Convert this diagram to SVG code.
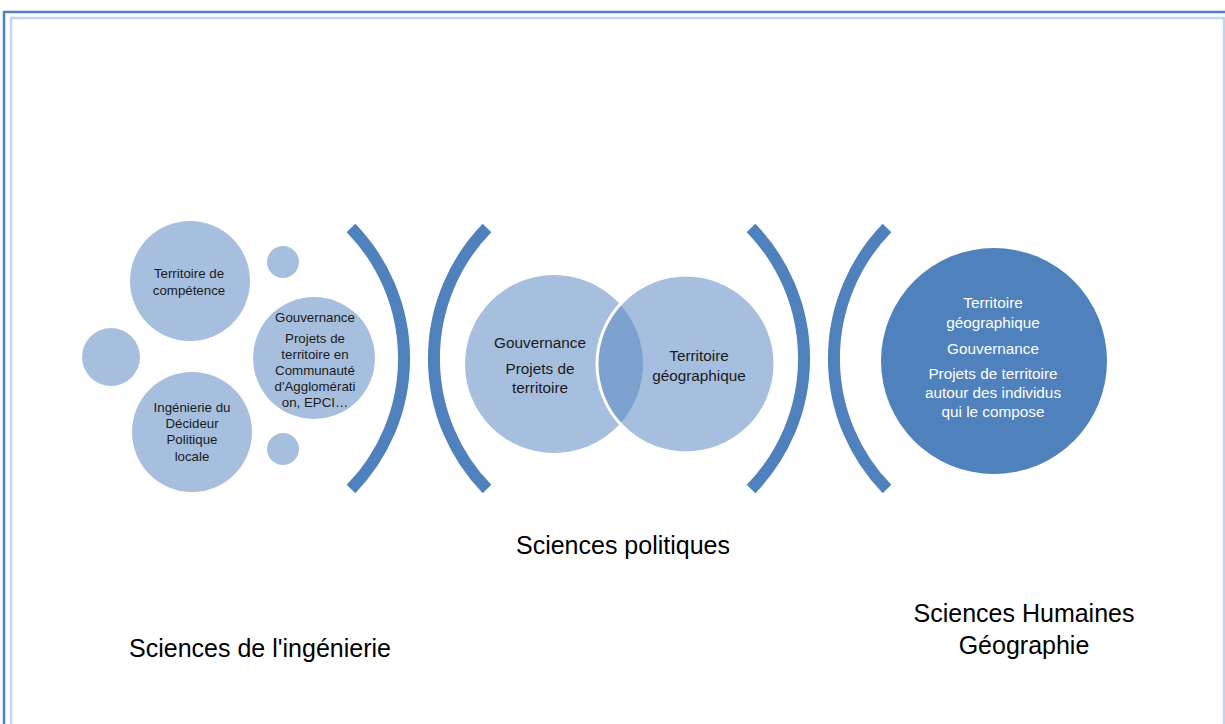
<svg xmlns="http://www.w3.org/2000/svg" width="1225" height="724" viewBox="0 0 1225 724">
<style>
.lc{fill:#a7bfde}
.br{fill:none;stroke:#4f81bd;stroke-width:12;stroke-linecap:butt}
.t{font-family:"Liberation Sans",Arial,sans-serif;fill:#1a1a1a;text-anchor:middle}
.s{font-size:13.3px}
.m{font-size:15.3px}
.w{font-size:15.3px;fill:#ffffff}
.big{font-size:25px;fill:#000000}
</style>
<rect x="0" y="0" width="1225" height="724" fill="#ffffff"/>
<g id="frame">
<path d="M4 724 V12 H1225" fill="none" stroke="#4f81bd" stroke-width="2.5"/>
<path d="M11 724 V18 H1224 V724" fill="none" stroke="#c3d4ee" stroke-width="2.5"/>
</g>
<g id="connectors">
<path class="br" d="M351 228 A187 187 0 0 1 351 489"/>
<path class="br" d="M487 228 A187 187 0 0 0 487 489"/>
<path class="br" d="M751 228 A187 187 0 0 1 751 489"/>
<path class="br" d="M887 228 A187 187 0 0 0 887 489"/>
</g>
<g id="node-territoire-competence">
<circle class="lc" cx="190" cy="281" r="60"/>
<text class="t s" x="189" y="278">Territoire de</text>
<text class="t s" x="189" y="295">compétence</text>
</g>
<g id="node-ingenierie">
<circle class="lc" cx="192" cy="432" r="60"/>
<text class="t s" x="192" y="412">Ingénierie du</text>
<text class="t s" x="192" y="428">Décideur</text>
<text class="t s" x="192" y="444">Politique</text>
<text class="t s" x="192" y="461">locale</text>
</g>
<g id="node-small-left">
<circle class="lc" cx="111" cy="357" r="29"/>
</g>
<g id="node-small-top">
<circle class="lc" cx="283" cy="262" r="16"/>
</g>
<g id="node-small-bottom">
<circle class="lc" cx="283" cy="449" r="16"/>
</g>
<g id="node-gouvernance-left">
<circle class="lc" cx="314" cy="358" r="61"/>
<text class="t s" x="315" y="322">Gouvernance</text>
<text class="t s" x="315" y="343">Projets de</text>
<text class="t s" x="315" y="359">territoire en</text>
<text class="t s" x="315" y="375">Communauté</text>
<text class="t s" x="315" y="391">d'Agglomérati</text>
<text class="t s" x="315" y="407">on, EPCI…</text>
</g>
<g id="node-venn-left">
<circle class="lc" cx="554" cy="364" r="89"/>
<text class="t m" x="540" y="348">Gouvernance</text>
<text class="t m" x="540" y="374">Projets de</text>
<text class="t m" x="540" y="393">territoire</text>
</g>
<g id="node-venn-right">
<circle class="lc" cx="686" cy="364" r="89"/>
<path d="M620 304.3 A89 89 0 0 1 620 423.7 A89 89 0 0 1 620 304.3 Z" fill="#7ea2cf"/>
<circle cx="686" cy="364" r="89" fill="none" stroke="#ffffff" stroke-width="3"/>
<text class="t m" x="699" y="361">Territoire</text>
<text class="t m" x="699" y="381">géographique</text>
</g>
<g id="node-big">
<circle cx="994" cy="361" r="113" fill="#4f81bd"/>
<text class="t w" x="993" y="308">Territoire</text>
<text class="t w" x="993" y="328">géographique</text>
<text class="t w" x="993" y="354">Gouvernance</text>
<text class="t w" x="993" y="379">Projets de territoire</text>
<text class="t w" x="993" y="398">autour des individus</text>
<text class="t w" x="993" y="417">qui le compose</text>
</g>
<g id="labels">
<text class="t big" x="623" y="554">Sciences politiques</text>
<text class="t big" x="260" y="657">Sciences de l'ingénierie</text>
<text class="t big" x="1024" y="622">Sciences Humaines</text>
<text class="t big" x="1024" y="654">Géographie</text>
</g>
</svg>
